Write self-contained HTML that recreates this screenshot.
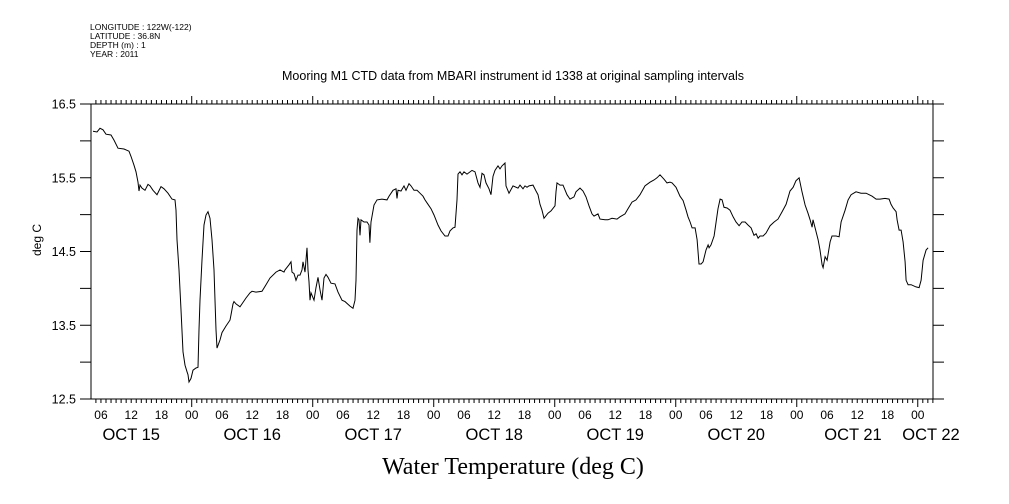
<!DOCTYPE html>
<html><head><meta charset="utf-8">
<style>
html,body{margin:0;padding:0;background:#fff;}
svg{display:block;}
text{font-family:"Liberation Sans",sans-serif;fill:#000;}
</style></head>
<body>
<svg id="chart" width="1009" height="504" viewBox="0 0 1009 504" xmlns="http://www.w3.org/2000/svg">
<g font-size="8.5">
<text x="90" y="30">LONGITUDE : 122W(-122)</text>
<text x="90" y="39">LATITUDE : 36.8N</text>
<text x="90" y="48">DEPTH (m) : 1</text>
<text x="90" y="57">YEAR : 2011</text>
</g>
<text x="513" y="80" font-size="12.5" text-anchor="middle">Mooring M1 CTD data from MBARI instrument id 1338 at original sampling intervals</text>
<text x="0" y="0" font-size="12" text-anchor="middle" transform="translate(41,240) rotate(-90)">deg C</text>
<text x="513" y="474" font-size="24" text-anchor="middle" style="font-family:'Liberation Serif',serif">Water Temperature (deg C)</text>
<g id="axes"></g>
<g id="series"></g>
</svg>
<script>
// hours since Oct 15 00:00 (2011)
const hours = [4.42,5.22,5.81,6.41,7.00,7.99,8.59,9.38,10.57,11.56,11.96,12.55,12.95,13.35,13.54,13.74,14.14,14.73,15.33,15.72,16.32,17.11,17.91,18.50,19.29,20.09,20.68,20.88,21.08,21.48,21.87,22.27,22.67,23.07,23.26,23.46,23.86,24.25,24.85,25.24,25.44,25.64,26.04,26.43,26.83,27.23,27.62,28.02,28.42,28.62,28.81,29.01,29.61,30.00,30.80,31.59,31.79,32.19,32.38,32.78,33.57,33.97,34.76,35.56,35.95,36.75,37.94,38.73,39.53,40.72,41.51,42.31,42.51,43.30,43.70,43.89,44.29,44.69,45.09,45.48,45.88,46.08,46.47,46.87,47.07,47.27,47.46,47.66,48.26,48.65,49.05,49.44,49.84,50.24,50.64,51.03,51.63,52.42,53.01,53.81,54.40,55.39,55.99,56.38,56.58,56.78,56.98,57.18,57.37,57.57,58.17,58.76,59.16,59.35,59.55,60.15,60.74,61.73,62.73,63.12,63.92,64.51,64.71,64.91,65.50,66.10,66.50,67.09,67.49,68.08,68.68,69.27,69.87,70.26,70.86,71.45,72.05,72.84,73.44,74.23,74.83,75.22,75.82,76.22,76.61,76.81,77.21,77.60,78.00,78.60,79.59,80.18,80.78,81.17,81.57,81.97,82.36,82.96,83.35,83.75,84.15,84.74,85.14,85.54,86.13,86.33,86.92,87.72,88.71,89.11,89.70,90.10,90.50,90.89,91.68,92.28,92.68,93.07,93.47,93.87,94.66,95.26,96.05,96.25,96.45,97.04,97.64,98.43,99.02,99.82,100.22,101.01,101.61,102.20,102.80,103.39,103.79,104.58,104.98,105.97,106.57,107.36,108.35,108.94,109.94,110.53,111.33,112.12,112.91,113.91,114.90,115.69,116.29,116.88,117.68,118.27,118.87,119.27,120.06,120.85,121.45,122.05,122.44,122.84,123.24,123.83,124.23,124.62,125.02,125.42,126.01,126.41,126.61,127.00,127.60,128.00,128.39,128.79,129.19,129.58,130.18,130.77,131.37,131.96,132.56,133.15,133.75,134.34,134.94,135.53,135.93,136.33,136.72,137.32,137.91,138.71,139.50,140.29,141.09,141.88,142.67,143.27,143.86,144.46,145.05,145.65,146.24,146.64,147.04,147.23,147.63,148.23,148.62,149.02,149.22,149.62,150.01,150.61,151.00,151.80,152.39,152.79,153.58,154.18,154.77,155.76,156.75,157.75,158.94,159.73,160.52,161.51,162.31,162.70,163.10,163.70,163.90,164.29,164.69,165.09,165.48,165.68,166.08,166.67,167.66,168.26,168.66,169.05,169.65,170.05];
const temps = [16.13,16.12,16.17,16.15,16.09,16.08,16.01,15.90,15.89,15.86,15.79,15.67,15.58,15.44,15.32,15.40,15.36,15.33,15.41,15.39,15.33,15.27,15.38,15.35,15.29,15.21,15.20,15.06,14.66,14.25,13.71,13.14,12.96,12.87,12.83,12.73,12.78,12.89,12.92,12.93,13.44,13.84,14.385,14.86,14.995,15.04,14.95,14.66,14.25,13.84,13.44,13.19,13.30,13.40,13.49,13.57,13.64,13.79,13.82,13.79,13.75,13.79,13.87,13.94,13.96,13.95,13.96,14.05,14.14,14.22,14.25,14.22,14.25,14.32,14.36,14.22,14.20,14.11,14.18,14.18,14.25,14.36,14.22,14.55,14.25,14.09,13.84,13.94,13.84,14.01,14.15,13.98,13.84,14.14,14.19,14.15,14.07,14.06,13.95,13.84,13.82,13.76,13.73,13.84,14.11,14.79,14.95,14.93,14.72,14.93,14.90,14.90,14.86,14.62,14.90,15.13,15.20,15.21,15.20,15.25,15.33,15.35,15.22,15.33,15.32,15.39,15.33,15.42,15.39,15.33,15.33,15.29,15.25,15.20,15.14,15.08,14.995,14.86,14.78,14.71,14.71,14.78,14.82,14.83,15.20,15.55,15.58,15.54,15.58,15.55,15.60,15.58,15.43,15.37,15.56,15.54,15.43,15.35,15.27,15.52,15.60,15.66,15.62,15.66,15.70,15.39,15.29,15.39,15.36,15.40,15.35,15.39,15.37,15.39,15.40,15.32,15.27,15.14,15.06,14.95,15.02,15.05,15.12,15.31,15.43,15.40,15.40,15.27,15.21,15.24,15.31,15.36,15.32,15.24,15.12,15.01,14.98,15.01,14.94,14.93,14.93,14.95,14.94,14.97,15.01,15.08,15.17,15.20,15.27,15.39,15.44,15.47,15.50,15.54,15.48,15.43,15.44,15.43,15.37,15.25,15.19,15.06,14.97,14.90,14.82,14.82,14.66,14.33,14.33,14.36,14.52,14.59,14.55,14.59,14.71,14.90,15.08,15.21,15.20,15.10,15.09,15.06,14.97,14.90,14.85,14.90,14.90,14.86,14.82,14.72,14.74,14.68,14.71,14.71,14.75,14.85,14.90,14.94,15.04,15.14,15.32,15.37,15.46,15.50,15.31,15.13,15.02,14.93,14.83,14.93,14.82,14.66,14.52,14.32,14.28,14.43,14.38,14.63,14.71,14.71,14.70,14.90,15.06,15.20,15.27,15.31,15.29,15.29,15.25,15.21,15.21,15.22,15.21,15.14,15.09,15.04,14.93,14.79,14.79,14.63,14.36,14.11,14.05,14.05,14.02,14.01,14.11,14.38,14.52,14.55];
const yTickLabels = ["16.5","15.5","14.5","13.5","12.5"];
const yTickValues = [16.5,15.5,14.5,13.5,12.5];
const dayLabels = ["OCT 15","OCT 16","OCT 17","OCT 18","OCT 19","OCT 20","OCT 21","OCT 22"];
const hourLabels = ["00","06","12","18"];

const L=91,R=933,T=104,B=399;
const H0=70.7, PXH=5.042;
const xMin=(L-H0)/PXH, xMax=(R-H0)/PXH;
const yMin=12.5,yMax=16.5;
function xS(h){return H0+h*PXH;}
function yS(v){return B-(v-yMin)/(yMax-yMin)*(B-T);}
const NS="http://www.w3.org/2000/svg";
function mk(tag,attrs,parent){const e=document.createElementNS(NS,tag);for(const k in attrs)e.setAttribute(k,attrs[k]);parent.appendChild(e);return e;}
const axes=document.getElementById('axes');
const frame=mk('rect',{x:L,y:T,width:R-L,height:B-T,fill:'none',stroke:'#000','stroke-width':1},axes);


for(let h=Math.ceil(xMin);h<=xMax;h++){
  const x=xS(h); const major=(h%24===0);
  const len=major?8:4;
  const tb=mk('line',{x1:x,y1:B,x2:x,y2:B+len,stroke:'#000','stroke-width':1},axes);
  
  
  const tt=mk('line',{x1:x,y1:T,x2:x,y2:T-len,stroke:'#000','stroke-width':1},axes);
  
  
  if(h%6===0){
    const t=mk('text',{x:x,y:419,'font-size':12,'text-anchor':'middle'},axes);
    t.textContent=hourLabels[(h%24)/6];
    
    
  }
}
dayLabels.forEach((d,i)=>{
  let x=xS(i*24+12);
  if(i===dayLabels.length-1) x=Math.min(x,R-2);
  if(i===dayLabels.length-2) x=Math.min(x,853);
  const t=mk('text',{x:x,y:440,'font-size':16.5,'text-anchor':'middle'},axes);
  t.textContent=d;
  
  
});
for(let v=yMin;v<=yMax+1e-9;v+=0.5){
  const y=yS(v);
  const a=mk('line',{x1:L-11,y1:y,x2:L,y2:y,stroke:'#000','stroke-width':1},axes);
  
  
  const b=mk('line',{x1:R,y1:y,x2:R+11,y2:y,stroke:'#000','stroke-width':1},axes);
  
  
}
yTickValues.forEach((v,i)=>{
  const t=mk('text',{x:76,y:yS(v)+4.5,'font-size':12.5,'text-anchor':'end'},axes);
  t.textContent=yTickLabels[i];
  
  
});
const pts=hours.map((h,i)=>xS(h).toFixed(1)+','+yS(temps[i]).toFixed(1)).join(' ');
const line=mk('polyline',{points:pts,fill:'none',stroke:'#000','stroke-width':1,'stroke-linejoin':'miter'},document.getElementById('series'));


</script>
</body></html>
